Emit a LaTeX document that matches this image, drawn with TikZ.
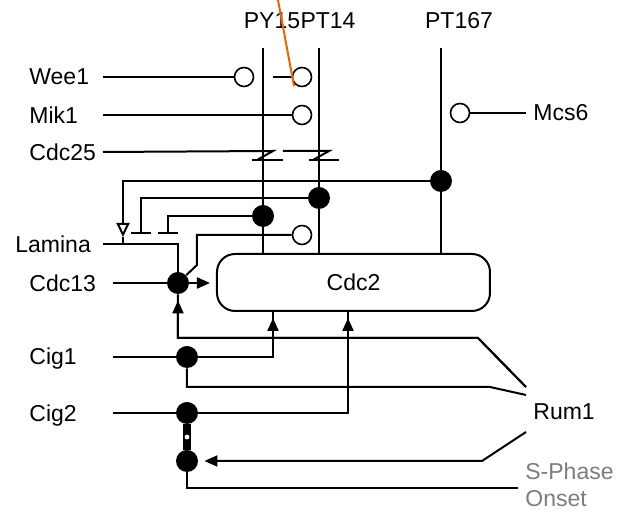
\documentclass[tikz,border=0pt]{standalone}
\usepackage{fontspec}
\setmainfont{Liberation Sans}
\usetikzlibrary{arrows.meta, positioning}
\definecolor{annotorange}{RGB}{240, 100, 0}
\definecolor{onsetgray}{RGB}{125, 125, 125}

\begin{document}
\begin{tikzpicture}[
                x=0.5pt, y=-0.5pt,
                lbl/.style={font=\fontsize{11.5}{14}\selectfont, inner sep=1pt},
                tag/.style={lbl, anchor=west},
                wire/.style={line width=1pt},
                dot/.style={circle, fill, inner sep=0pt, minimum size=11pt},
                ring/.style={circle, draw, line width=0.8pt, fill=white, inner sep=0pt, minimum size=9.5pt},
                hole/.style={circle, fill=white, inner sep=0pt, minimum size=2.4pt},
                box/.style={draw, line width=1pt, rounded corners=9pt, minimum width=136.5pt, minimum height=28.5pt, font=\fontsize{11.5}{14}\selectfont},
                arrow/.style={wire, -{Triangle[length=6.5pt, width=5.5pt]}, shorten >=3pt},
                stemarrow/.style={wire, postaction={draw, -{Triangle[length=6.5pt, width=5.5pt]}, shorten >=3pt}},
                inhib/.style={wire, -{Bar[width=10pt]}},
                openarrow/.style={wire, -{Triangle[open, length=7pt, width=6.5pt]}},
                bind/.style={line width=3.6pt},
                annot/.style={draw=annotorange, line width=1pt}
            ]
                \useasboundingbox (0,0) rectangle (618,512);

                \node[tag] (wee1) at (27,77) {Wee1};
                \node[tag] (mik1) at (27,115) {Mik1};
                \node[tag] (cdc25) at (27,152) {Cdc25};
                \node[tag] (lamina) at (13,244) {Lamina};
                \node[tag] (cdc13) at (27,283) {Cdc13};
                \node[tag] (cig1) at (27,359) {Cig1};
                \node[tag] (cig2) at (27,416) {Cig2};
                \node[tag] (mcs6) at (531,113) {Mcs6};
                \node[tag] (rum1) at (531,412) {Rum1};
                \node[tag, text=onsetgray, align=left, font=\fontsize{11.5}{13.5}\selectfont] (sphase) at (523,485) {S-Phase\\Onset};
                \node[lbl] (py15) at (272,21) {PY15};
                \node[lbl] (pt14) at (328,21) {PT14};
                \node[lbl] (pt167) at (459,21) {PT167};

                \node[box] (cdc2) at (353.5,282.5) {Cdc2};

                \coordinate (inl) at (103,0);
                \coordinate (inr) at (113,0);
                \coordinate (py15top) at (263,48);
                \coordinate (pt14top) at (319,48);
                \coordinate (pt167top) at (441,48);
                \draw[wire] (py15top) -- (py15top |- cdc2.north);
                \draw[wire] (pt14top) -- (pt14top |- cdc2.north);
                \draw[wire] (pt167top) -- (pt167top |- cdc2.north);

                \node[dot] (d15) at (263,216) {};
                \node[dot] (d14) at (319,198) {};
                \node[dot] (d167) at (441,181) {};
                \node[dot] (d13) at (178,283) {};
                \node[dot] (dcig1) at (187,357) {};
                \node[dot] (dcig2) at (187,413) {};
                \node[dot] (dsph) at (187,461) {};

                \node[ring] (rw1) at (244,77) {};
                \node[ring] (rw2) at (302,77) {};
                \node[ring] (rmik) at (302,115) {};
                \node[ring] (rlam) at (302,235) {};
                \node[ring] (rmcs) at (460,113) {};

                \draw[wire] (wee1 -| inl) -- (rw1);
                \coordinate (wee1b) at (273,77);
                \draw[wire] (wee1b) -- (rw2);
                \draw[wire] (mik1 -| inl) -- (rmik);
                \draw[wire] (rmcs) -- ([xshift=-2.5pt]mcs6.west);

                \coordinate (z15) at (263,151);
                \coordinate (z14) at (319,151);
                \draw[wire] (cdc25 -| inl) -- ([xshift=5pt]z15) -- ++(-16,9);
                \draw[wire] (z15) ++(-11,9) -- ++(31,0);
                \draw[wire] (z15) ++(20,0) -- ([xshift=5pt]z14) -- ++(-16,9);
                \draw[wire] (z14) ++(-10,9) -- ++(30,0);

                \coordinate (latip) at (123,237);
                \draw[openarrow] (d167) -| (latip);
                \draw[wire] (latip) -- (latip |- lamina);
                \coordinate (bar14) at (141,234);
                \draw[inhib] (d14) -| (bar14);
                \coordinate (bar15) at (168,234);
                \draw[inhib] (d15) -| (bar15);
                \coordinate (k13) at (197,265);
                \draw[wire] (rlam) -| (k13) -- (d13);

                \draw[wire] (lamina -| inl) -| (d13);
                \draw[wire] (d13 -| inr) -- (d13);
                \draw[arrow] (d13) -- (d13 -| cdc2.west);

                \draw[wire] (dcig1 -| inr) -- (dcig1);
                \draw[stemarrow] (dcig1) -| ([xshift=-40.25pt]cdc2.south);
                \draw[wire] (dcig2 -| inr) -- (dcig2);
                \draw[stemarrow] (dcig2) -| ([xshift=-2.75pt]cdc2.south);
                \draw[bind] (dcig2) -- node[hole] {} (dsph);

                \coordinate (r1a) at ([xshift=-2.5pt, yshift=12.5pt]rum1.west);
                \coordinate (r1b) at ([xshift=-2.5pt, yshift=8.5pt]rum1.west);
                \coordinate (r1c) at ([xshift=-2.5pt, yshift=-10pt]rum1.west);
                \draw[stemarrow] (r1a) -- ++(-48,-49) -| (d13);
                \draw[wire] (r1b) -- ++(-36,-8) -| (dcig1);
                \draw[arrow] (r1c) -- ++(-44,29) -- (dsph);
                \draw[wire] (dsph) |- ([xshift=-2.5pt, yshift=-1.5pt]sphase.west);

                \coordinate (o1) at (278,0);
                \coordinate (o2) at (294,86);
                \draw[annot] (o1) -- (o2);
            \end{tikzpicture}
\end{document}
